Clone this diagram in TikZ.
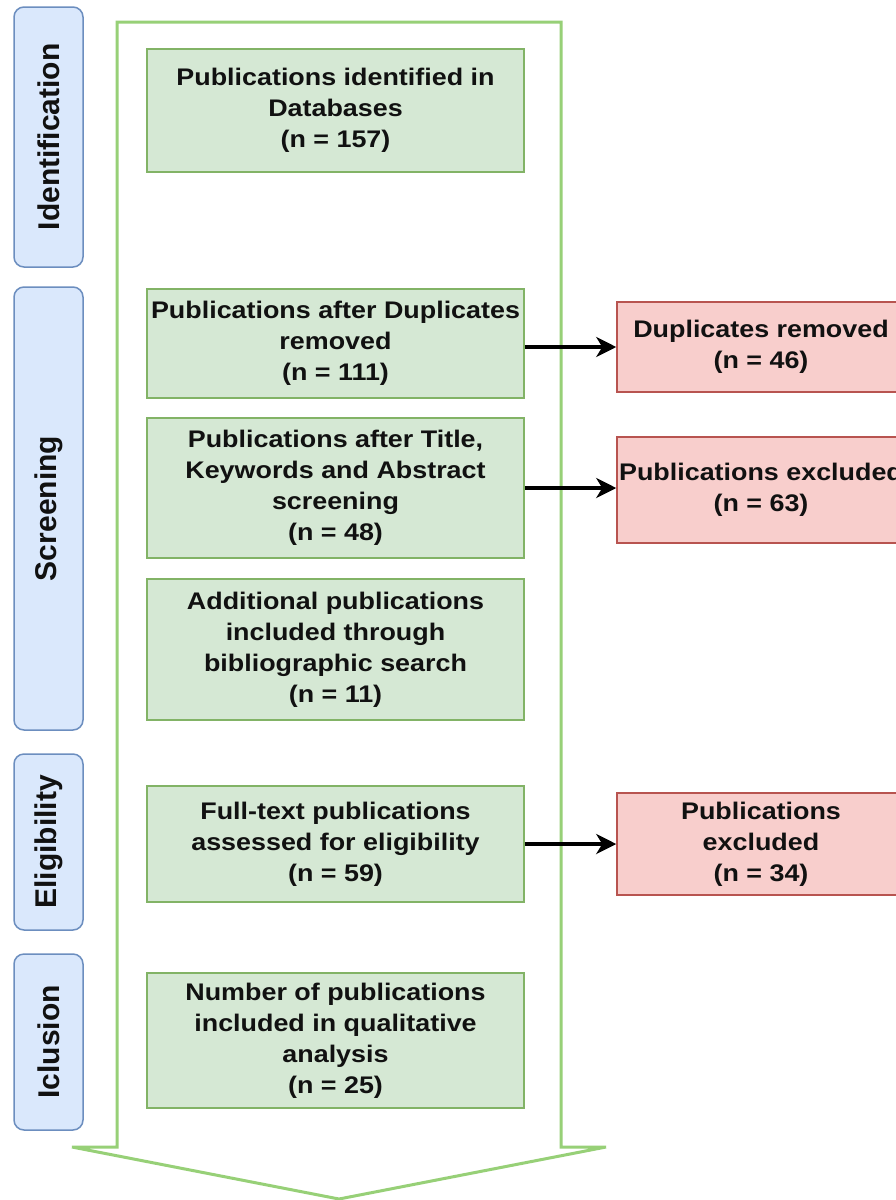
\documentclass[tikz,border=0pt]{standalone}
\usepackage{fontspec}
\usepackage{graphicx}
\setmainfont{Liberation Sans}
\usetikzlibrary{arrows.meta}
\definecolor{gfill}{HTML}{D5E8D4}
\definecolor{gdraw}{HTML}{82B366}
\definecolor{rfill}{HTML}{F8CECC}
\definecolor{rdraw}{HTML}{B85450}
\definecolor{bfill}{HTML}{DAE8FC}
\definecolor{bdraw}{HTML}{6C8EBF}
\definecolor{frame}{HTML}{97D077}
\definecolor{ink}{HTML}{111111}
\newcommand{\wt}[1]{\scalebox{1.12}[1]{\fontsize{24}{31}\selectfont\bfseries\begin{tabular}{@{}c@{}}#1\end{tabular}}}
\tikzset{
  gbox/.style={draw=gdraw, fill=gfill, line width=1.5pt, minimum width=377pt, inner sep=0pt, text=ink},
  rbox/.style={draw=rdraw, fill=rfill, line width=1.5pt, minimum width=288pt, inner sep=0pt, text=ink},
  sidebox/.style={draw=bdraw, fill=bfill, line width=1.5pt, rounded corners=10pt, minimum height=69pt, inner sep=0pt, rotate=90, text=ink, font=\fontsize{30}{34}\selectfont\bfseries},
  conn/.style={line width=3.5pt, -{Stealth[length=20pt,width=20pt,inset=6pt]}, black},
  bigarrow/.style={draw=frame, line width=3pt, line join=miter}
}
\begin{document}
\begin{tikzpicture}[x=1pt,y=-1pt]
\clip (0,0) rectangle (896,1200);
\fill[white] (0,0) rectangle (896,1200);
% big frame arrow
\draw[bigarrow] (117,22) -- (561,22) -- (561,1147) -- (606,1147) -- (339,1199) -- (72,1147) -- (117,1147) -- cycle;
% side labels
\node[sidebox, minimum width=260pt] (sid) at (48.5,137) {Identification};
\node[sidebox, minimum width=443pt] (ssc) at (48.5,508.5) {Screening};
\node[sidebox, minimum width=176pt] (sel) at (48.5,842) {Eligibility};
\node[sidebox, minimum width=176pt] (sin) at (48.5,1042) {Iclusion};
% green boxes
\node[gbox, minimum height=123pt] (b1) at (335.5,110.5) {\wt{Publications identified in\\Databases\\(n = 157)}};
\node[gbox, minimum height=109pt] (b2) at (335.5,343.5) {\wt{Publications after Duplicates\\removed\\(n = 111)}};
\node[gbox, minimum height=140pt] (b3) at (335.5,488) {\wt{Publications after Title,\\Keywords and Abstract\\screening\\(n = 48)}};
\node[gbox, minimum height=141pt] (b4) at (335.5,649.5) {\wt{Additional publications\\included through\\bibliographic search\\(n = 11)}};
\node[gbox, minimum height=116pt] (b5) at (335.5,844) {\wt{Full-text publications\\assessed for eligibility\\(n = 59)}};
\node[gbox, minimum height=135pt] (b6) at (335.5,1040.5) {\wt{Number of publications\\included in qualitative\\analysis\\(n = 25)}};
% red boxes
\node[rbox, minimum height=90pt] (r1) at (761,347) {\wt{Duplicates removed\\(n = 46)}};
\node[rbox, minimum height=106pt] (r2) at (761,490) {\wt{Publications excluded\\(n = 63)}};
\node[rbox, minimum height=102pt] (r3) at (761,844) {\wt{Publications\\excluded\\(n = 34)}};
% connectors
\draw[conn] (b2.east |- r1.west) -- (r1.west);
\draw[conn] (b3.east) -- (b3.east -| r2.west);
\draw[conn] (b5.east) -- (r3.west);
\end{tikzpicture}
\end{document}
